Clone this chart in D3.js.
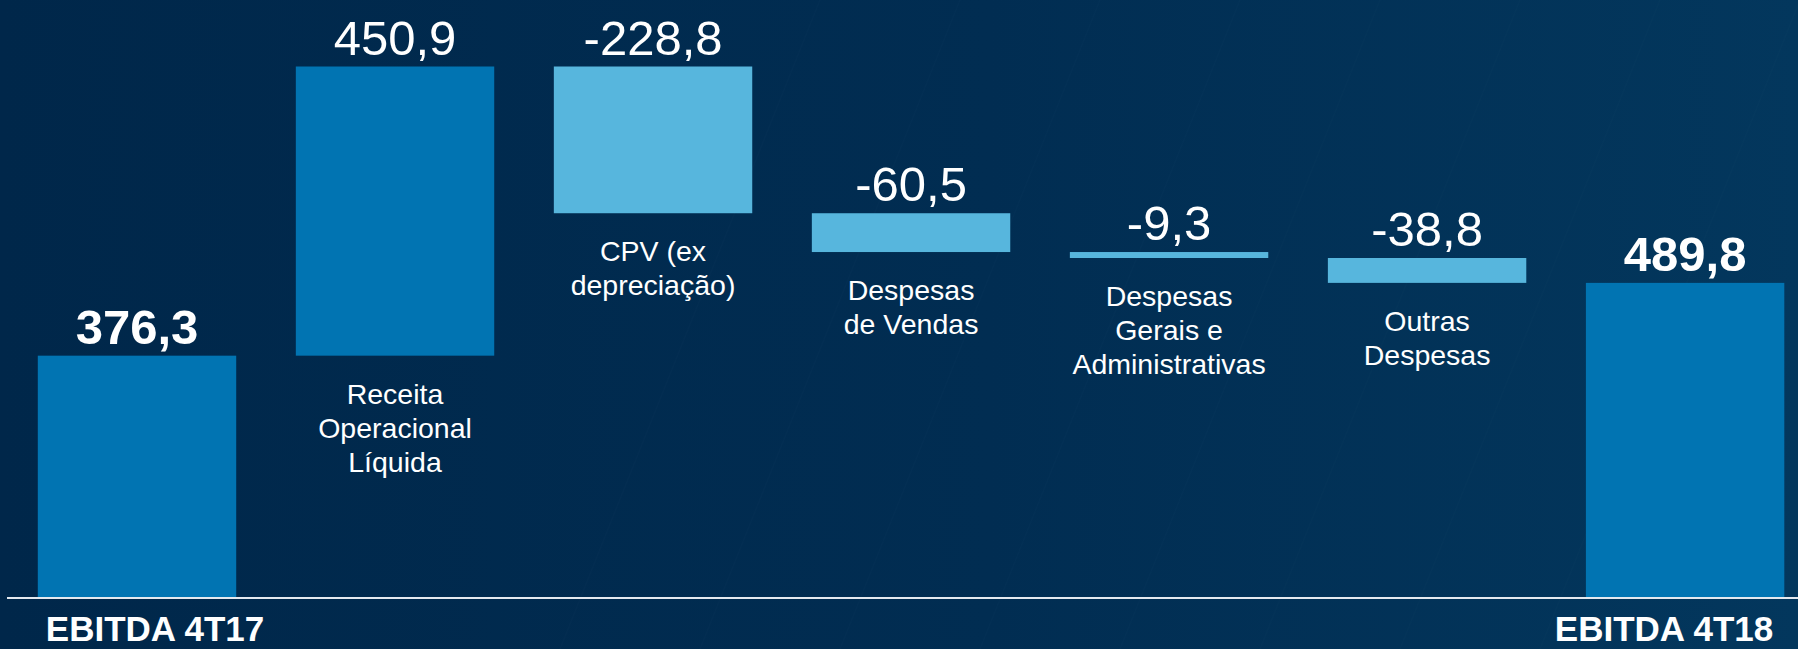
<!DOCTYPE html>
<html>
<head>
<meta charset="utf-8">
<script src="https://cdn.jsdelivr.net/npm/d3@7"></script>
<style>
  html, body { margin: 0; padding: 0; background: #012a4e; overflow: hidden; }
  svg { display: block; font-family: "Liberation Sans", Arial, sans-serif; }
</style>
</head>
<body>
<svg class="chart"></svg>
<script>
// waterfall data
const categories = ["EBITDA 4T17", "Receita Operacional Líquida", "CPV (ex depreciação)",
  "Despesas de Vendas", "Despesas Gerais e Administrativas", "Outras Despesas", "EBITDA 4T18"];
const labelLines = [
  ["EBITDA 4T17"],
  ["Receita", "Operacional", "Líquida"],
  ["CPV (ex", "depreciação)"],
  ["Despesas", "de Vendas"],
  ["Despesas", "Gerais e", "Administrativas"],
  ["Outras", "Despesas"],
  ["EBITDA 4T18"]
];
const values = [376.3, 450.9, -228.8, -60.5, -9.3, -38.8, 489.8];
const isTotal = [true, false, false, false, false, false, true];

const width = 1798;
const height = 649;

const svg = d3.select('.chart')
  .attr('width', width)
  .attr('height', height);

// background gradient
const defs = svg.append('defs');
const grad = defs.append('linearGradient')
  .attr('id', 'bg')
  .attr('x1', '0%').attr('y1', '0%')
  .attr('x2', '100%').attr('y2', '0%');
grad.append('stop').attr('offset', '0%').attr('stop-color', '#00274a');
grad.append('stop').attr('offset', '55%').attr('stop-color', '#012d52');
grad.append('stop').attr('offset', '100%').attr('stop-color', '#03375d');

svg.append('rect')
  .attr('width', width)
  .attr('height', height)
  .attr('fill', 'url(#bg)');

// faint diagonal streaks
const streaks = [820, 960, 1100, 1240, 1380, 1520, 1660, 1800];
svg.append('g').selectAll('line')
  .data(streaks)
  .enter().append('line')
  .attr('x1', function(s) { return s - 260; })
  .attr('y1', height)
  .attr('x2', function(s) { return s; })
  .attr('y2', 0)
  .attr('stroke', '#ffffff')
  .attr('stroke-opacity', 0.012)
  .attr('stroke-width', 2);

// build the running steps
let run = 0;
const steps = values.map(function(v, i) {
  let start, end;
  if (isTotal[i]) { start = 0; end = v; run = v; }
  else { start = run; end = run + v; run = end; }
  return { cat: categories[i], value: v, start: start, end: end, total: isTotal[i], lines: labelLines[i] };
});

const x = d3.scaleBand()
  .domain(categories)
  .range([37.8, 1784.3])
  .paddingInner(0.231)
  .paddingOuter(0);

const y = d3.scaleLinear()
  .domain([0, d3.max(steps, function(s) { return Math.max(s.start, s.end); })])
  .range([597, 66.5]);

const locale = d3.formatLocale({ decimal: ",", thousands: ".", grouping: [3], currency: ["R$", ""], minus: "-" });
const fmt = locale.format(".1f");

function barTop(s) { return y(Math.max(s.start, s.end)); }
function barBottom(s) { return y(Math.min(s.start, s.end)); }
function barMid(s) { return x(s.cat) + x.bandwidth() / 2; }

const bars = svg.append('g').selectAll('.bar')
  .data(steps)
  .enter().append('g')
  .attr('class', 'bar');

bars.append('rect')
  .attr('x', function(s) { return x(s.cat); })
  .attr('width', x.bandwidth())
  .attr('y', barTop)
  .attr('height', function(s) { return barBottom(s) - barTop(s); })
  .attr('fill', function(s) { return (s.total || s.value > 0) ? '#0174b2' : '#57b6dd'; });

// value labels
bars.append('text')
  .attr('x', barMid)
  .attr('y', function(s) { return barTop(s) - 12; })
  .attr('text-anchor', 'middle')
  .attr('fill', '#ffffff')
  .style('font-size', '49px')
  .style('font-weight', function(s) { return s.total ? 'bold' : 'normal'; })
  .text(function(s) { return fmt(s.value); });

// category labels under the floating bars
bars.filter(function(s) { return !s.total; })
  .append('text')
  .attr('text-anchor', 'middle')
  .attr('fill', '#ffffff')
  .style('font-size', '28.5px')
  .each(function(s) {
    const t = d3.select(this);
    s.lines.forEach(function(line, j) {
      t.append('tspan')
        .attr('x', barMid(s))
        .attr('y', barBottom(s) + 48 + j * 34)
        .text(line);
    });
  });

// axis line
svg.append('line')
  .attr('x1', 7).attr('x2', width)
  .attr('y1', y(0) + 1).attr('y2', y(0) + 1)
  .attr('stroke', '#e4e9ef')
  .attr('stroke-width', 2);

// total labels below axis
const totals = steps.filter(function(s) { return s.total; });
svg.append('g').selectAll('text')
  .data(totals)
  .enter().append('text')
  .attr('x', function(s, i) { return i === 0 ? x(s.cat) + 8 : x(s.cat) + x.bandwidth() - 11; })
  .attr('y', 641)
  .attr('text-anchor', function(s, i) { return i === 0 ? 'start' : 'end'; })
  .attr('fill', '#ffffff')
  .style('font-size', '35px')
  .style('font-weight', 'bold')
  .text(function(s) { return s.lines[0]; });
</script>
</body>
</html>
